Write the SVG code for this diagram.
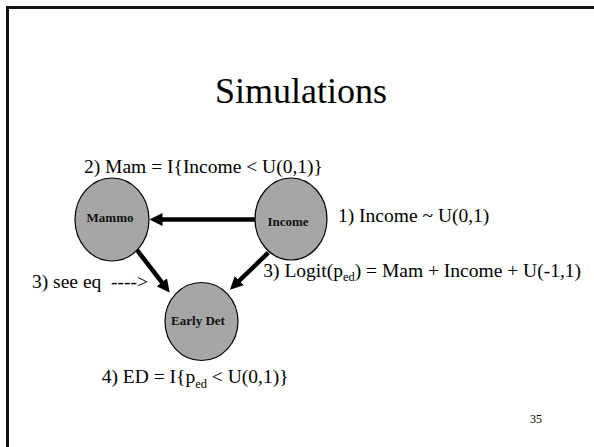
<svg xmlns="http://www.w3.org/2000/svg" width="594" height="447" viewBox="0 0 594 447">
<style>
.t{font-family:"Liberation Serif","Times New Roman",Times,"DejaVu Serif",serif;font-size:19.5px;fill:#000;white-space:pre}
.n{font-family:"Liberation Serif","Times New Roman",Times,"DejaVu Serif",serif;font-size:13px;font-weight:bold;fill:#111;text-anchor:middle}
.node{fill:#a6a6a6;stroke:#000;stroke-width:1.2}
.edge{stroke:#000;stroke-width:4.5;fill:none}
.sub{font-size:12.5px}
</style>
<defs>
<marker id="ah" viewBox="0 0 13 13" refX="0.5" refY="6.5" markerWidth="13" markerHeight="13" markerUnits="userSpaceOnUse" orient="auto">
<path d="M0,0 L13,6.5 L0,13 z" fill="#000"/>
</marker>
</defs>
<rect width="594" height="447" fill="#fff"/>
<path d="M7.5,447 V7.5 H594" fill="none" stroke="#111" stroke-width="3"/>
<text class="t" x="301" y="103" text-anchor="middle" style="font-size:36px">Simulations</text>
<g id="connectors">
<line class="edge" x1="255" y1="219.5" x2="162" y2="219.5" marker-end="url(#ah)"/>
<line class="edge" x1="137" y1="250" x2="162.1" y2="282.7" marker-end="url(#ah)"/>
<line class="edge" x1="268.3" y1="252.7" x2="238.9" y2="281" marker-end="url(#ah)"/>
</g>
<g id="mammo">
<ellipse class="node" cx="112" cy="219.5" rx="37" ry="41.5"/>
<text class="n" x="110" y="222.3">Mammo</text>
</g>
<g id="income">
<ellipse class="node" cx="291" cy="219" rx="36" ry="41"/>
<text class="n" x="288" y="225.5">Income</text>
</g>
<g id="earlydet">
<ellipse class="node" cx="201.5" cy="321.5" rx="36.5" ry="39"/>
<text class="n" x="198" y="325">Early Det</text>
</g>
<text class="t" x="84" y="173">2) Mam = I{Income &lt; U(0,1)}</text>
<text class="t" x="338" y="221.7">1) Income ~ U(0,1)</text>
<text class="t" x="32" y="288">3) see eq  ----&gt;</text>
<text class="t" x="263.3" y="276.7">3) Logit(p<tspan class="sub" dy="4.5">ed</tspan><tspan dy="-4.5">) = Mam + Income + U(-1,1)</tspan></text>
<text class="t" x="101.7" y="383">4) ED = I{p<tspan class="sub" dy="4.5">ed</tspan><tspan dy="-4.5"> &lt; U(0,1)}</tspan></text>
<text class="t" x="530" y="423" style="font-size:12px">35</text>
</svg>
